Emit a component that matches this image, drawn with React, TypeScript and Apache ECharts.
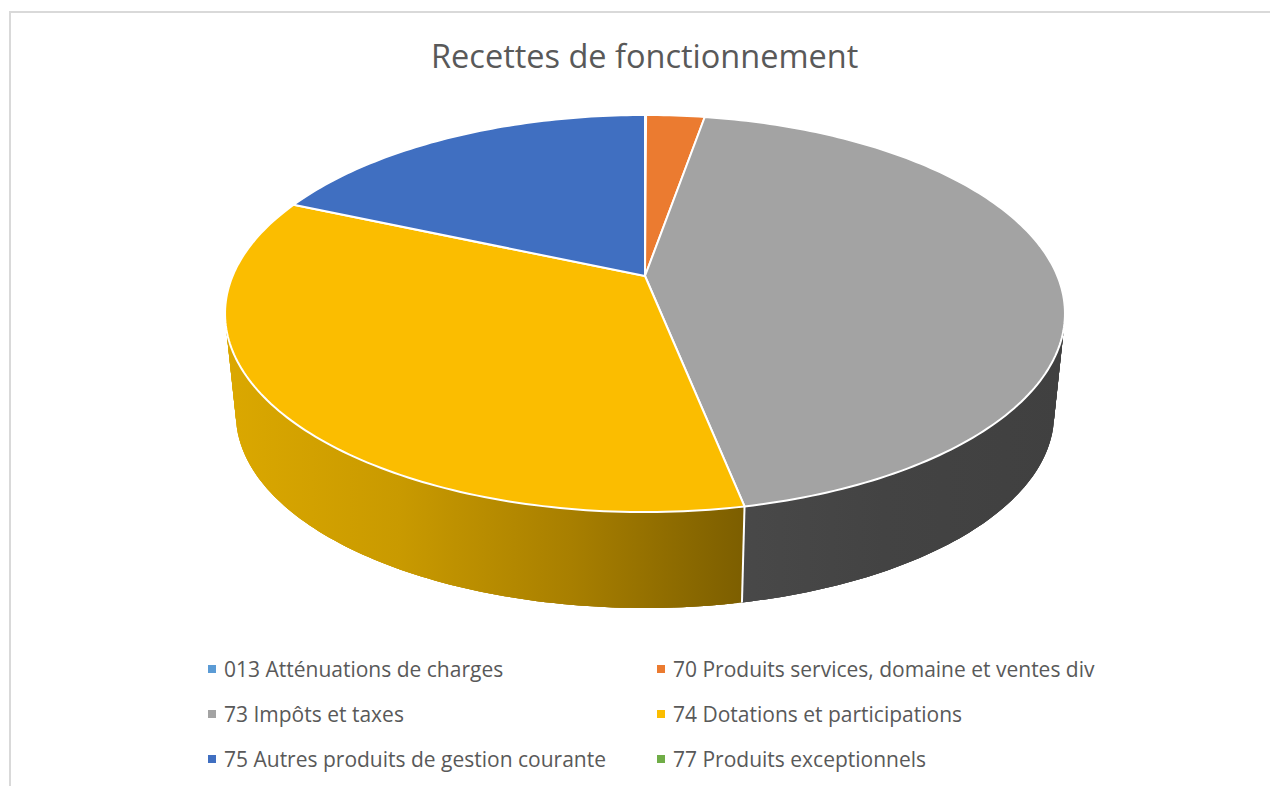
import React, { useEffect, useRef } from "react";
import * as echarts from "echarts";

const titleText = "Recettes de fonctionnement";
const categories = [
  "013 Atténuations de charges",
  "70 Produits services, domaine et ventes div",
  "73 Impôts et taxes",
  "74 Dotations et participations",
  "75 Autres produits de gestion courante",
  "77 Produits exceptionnels",
];
const values = [0.05, 2.7, 44.1, 34.7, 18.45, 0];
const colors = ["#5B9BD5", "#EB7B30", "#A3A3A3", "#FBBD00", "#406FC1", "#70AD47"];
const sideStops: (string[])[] = [
  ["#37608A", "#37608A"],
  ["#8D4A1D", "#8D4A1D"],
  ["#4A4A4A", "#434343", "#404040"],
  ["#DBA800", "#C99A00", "#A87F00", "#7C5E00"],
  ["#264374", "#264374"],
  ["#436829", "#436829"],
];
const leftLegend = [categories[0], categories[2], categories[4]];
const rightLegend = [categories[1], categories[3], categories[5]];

// projection of the pie's disc
const CX = 645;
const CY = 276;
const RX = 412.4;
const AY = 139.3;
const K = -0.189;
const VANISH_Y = 4200;
const DEPTH_SCALE = 0.974;

const topPoint = (deg: number): number[] => {
  const a = (deg * Math.PI) / 180;
  const u = Math.sin(a);
  const v = -Math.cos(a);
  const w = 1 + K * v;
  return [CX + (RX * u) / w, (AY * v + CY) / w];
};
const basePoint = (p: number[]): number[] => [
  CX + (p[0] - CX) * DEPTH_SCALE,
  VANISH_Y - (VANISH_Y - p[1]) * DEPTH_SCALE,
];
const arc = (a0: number, a1: number): number[][] => {
  const pts: number[][] = [];
  const n = Math.max(2, Math.ceil((a1 - a0) / 1));
  for (let i = 0; i <= n; i++) pts.push(topPoint(a0 + ((a1 - a0) * i) / n));
  return pts;
};

const total = values.reduce((s, v) => s + v, 0);
const spans: number[][] = [];
values.reduce((acc, v) => {
  const next = acc + (v / total) * 360;
  spans.push([acc, next]);
  return next;
}, 0);

const sideItem = (params: any, api: any) => {
  const i = params.dataIndex;
  const a0 = api.value(0);
  const a1 = api.value(1);
  if (a1 - a0 < 0.001) return null;
  const rim = arc(a0, a1);
  const base = rim.map(basePoint);
  const xs = rim.concat(base).map((p) => p[0]);
  const stops = sideStops[i];
  const fill = new echarts.graphic.LinearGradient(
    Math.min(...xs), 0, Math.max(...xs), 0,
    stops.map((c, k) => ({ offset: k / (stops.length - 1), color: c })),
    true
  );
  const children: any[] = [];
  // overlapping strips: every join is fully covered by the next strip
  for (let k = 0; k < rim.length - 1; k++) {
    const e = Math.min(k + 3, rim.length - 1);
    children.push({
      type: "polygon",
      shape: { points: [...rim.slice(k, e + 1), ...base.slice(k, e + 1).reverse()] },
      style: { fill },
    });
  }
  const seam = topPoint(a0);
  if (seam[1] > CY + 60) {
    children.push({
      type: "line",
      z2: 5,
      shape: { x1: seam[0], y1: seam[1], x2: basePoint(seam)[0], y2: basePoint(seam)[1] },
      style: { stroke: "#FFFFFF", lineWidth: 2 },
    });
  }
  return { type: "group", children };
};

const topItem = (i: number) => (_params: any, api: any) => {
  const a0 = api.value(0);
  const a1 = api.value(1);
  if (a1 - a0 < 0.001) return null;
  return {
    type: "polygon",
    shape: { points: [[CX, CY], ...arc(a0, a1)] },
    style: { fill: colors[i], stroke: "#FFFFFF", lineWidth: 2, lineJoin: "round" },
  };
};

const legendBase = {
  orient: "vertical" as const,
  top: 650,
  padding: 5,
  itemWidth: 8,
  itemHeight: 8,
  itemGap: 17,
  icon: "rect",
  selectedMode: false,
  textStyle: {
    fontFamily: "'Open Sans'",
    fontSize: 21,
    color: "#595959",
    padding: [0, 0, 0, 3],
    lineHeight: 28,
  },
};

export default function App() {
  const ref = useRef<HTMLDivElement>(null);
  useEffect(() => {
    const chart = echarts.init(ref.current!, undefined, { renderer: "svg" });
    chart.setOption({
      animation: false,
      backgroundColor: "#FFFFFF",
      title: {
        text: titleText,
        left: 426,
        top: 34,
        textStyle: { fontFamily: "'Open Sans'", fontSize: 32.5, fontWeight: "normal", color: "#595959" },
      },
      legend: [
        { ...legendBase, left: 203, data: leftLegend },
        { ...legendBase, left: 652, data: rightLegend },
      ],
      graphic: [
        {
          type: "polyline",
          silent: true,
          shape: { points: [[10, 786], [10, 12], [1270, 12]] },
          style: { stroke: "#D9D9D9", lineWidth: 2, fill: null },
        },
      ],
      series: [
        {
          type: "custom",
          name: "sides",
          coordinateSystem: "none",
          z: 2,
          silent: true,
          renderItem: sideItem,
          data: spans,
        },
        ...categories.map((name, i) => ({
          type: "custom",
          name,
          coordinateSystem: "none",
          z: 3,
          itemStyle: { color: colors[i] },
          renderItem: topItem(i),
          data: [spans[i]],
        })),
      ],
    });
    return () => chart.dispose();
  }, []);
  return (
    <div
      ref={ref}
      style={{ position: "absolute", left: 0, top: 0, width: 1270, height: 786, overflow: "hidden" }}
    />
  );
}
